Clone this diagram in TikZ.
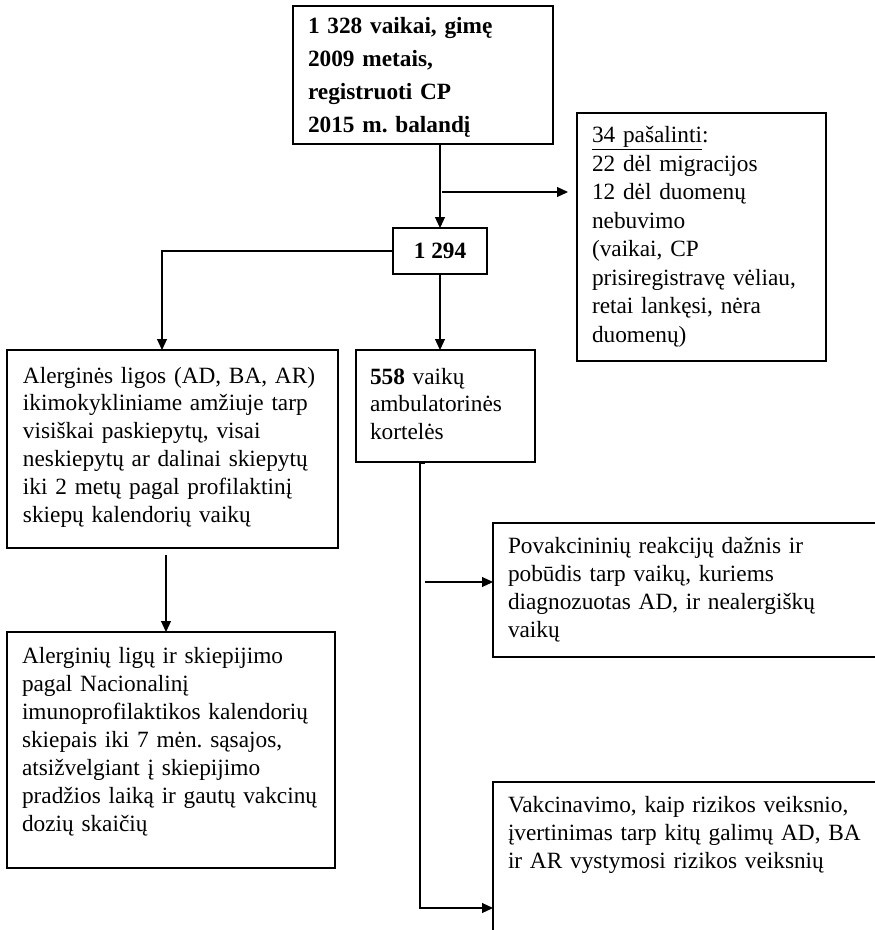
\documentclass[tikz,border=0pt]{standalone}
\usepackage{fontspec}
\setmainfont{Liberation Serif}
\usetikzlibrary{arrows.meta,calc}
\frenchspacing
\begin{document}
\begin{tikzpicture}[x=1pt,y=-1pt,
  boxst/.style={draw, line width=1.1pt, rectangle, anchor=north west, inner sep=0pt, outer sep=0pt},
  txt/.style={anchor=base west, inner sep=0pt, outer sep=0pt, text width=400pt, align=left},
  fnt/.style={font=\fontsize{23.3}{#1}\selectfont\frenchspacing},
  arr/.style={line width=1.1pt, -{Triangle[length=11pt,width=10pt]}},
  ln/.style={line width=1.1pt}]
\useasboundingbox (0,0) rectangle (875,930);
\fill[white] (0,0) rectangle (875,930);
% boxes
\node[boxst, minimum width=260pt, minimum height=138pt] (start) at (293,6) {};
\node[boxst, minimum width=249pt, minimum height=248pt] (pas) at (577,113) {};
\node[boxst, minimum width=94pt, minimum height=46pt, fnt=28] (n1294) at (393,228) {\textbf{1 294}};
\node[boxst, minimum width=331pt, minimum height=198pt] (alerg) at (7,350) {};
\node[boxst, minimum width=179pt, minimum height=112pt] (k558) at (356,350) {};
\node[boxst, minimum width=328pt, minimum height=236pt] (alg2) at (7,632) {};
\node[boxst, minimum width=400pt, minimum height=134pt] (povak) at (493,523) {};
\node[boxst, minimum width=400pt, minimum height=200pt] (vakc) at (493,782) {};
% texts
\node[txt, fnt=33] (tstart) at (308,33) {\bfseries 1 328 vaikai, gimę\\2009 metais,\\registruoti CP\\2015 m. balandį};
\node[txt, fnt=28.5] (tpas) at (592,142.5) {\underline{34 pašalinti}:\\22 dėl migracijos\\12 dėl duomenų\\nebuvimo\\(vaikai, CP\\prisiregistravę vėliau,\\retai lankęsi, nėra\\duomenų)};
\node[txt, fnt=27.8] (talerg) at (23,383) {Alerginės ligos (AD, BA, AR)\\ikimokykliniame amžiuje tarp\\visiškai paskiepytų, visai\\neskiepytų ar dalinai skiepytų\\iki 2 metų pagal profilaktinį\\skiepų kalendorių vaikų};
\node[txt, fnt=27.8] (tk558) at (370,384) {\textbf{558} vaikų\\ambulatorinės\\kortelės};
\node[txt, fnt=28] (talg2) at (22,663) {Alerginių ligų ir skiepijimo\\pagal Nacionalinį\\imunoprofilaktikos kalendorių\\skiepais iki 7 mėn. sąsajos,\\atsižvelgiant į skiepijimo\\pradžios laiką ir gautų vakcinų\\dozių skaičių};
\node[txt, fnt=28] (tpovak) at (508,553) {Povakcininių reakcijų dažnis ir\\pobūdis tarp vaikų, kuriems\\diagnozuotas AD, ir nealergiškų\\vaikų};
\node[txt, fnt=28] (tvakc) at (508,812) {Vakcinavimo, kaip rizikos veiksnio,\\įvertinimas tarp kitų galimų AD, BA\\ir AR vystymosi rizikos veiksnių};
% connectors
\draw[arr] (start.south -| n1294.north) -- (n1294.north);
\coordinate (br) at (442,192);
\draw[arr, shorten >=9pt] (br) -- (br -| pas.west);
\coordinate (a1) at ($(alerg.north)+(-10.5,0)$);
\draw[arr] (n1294.west) -| (a1);
\draw[arr] (n1294.south) -- (n1294.south |- k558.north);
\coordinate (a2) at ($(alerg.south)+(-6.5,7)$);
\draw[arr] (a2) -- (a2 |- alg2.north);
\coordinate (vtop) at ($(k558.south west)+(69,1)$);
\coordinate (vx) at ($(k558.south west)+(64,1)$);
\coordinate (vbot) at ($(vx)+(0,445)$);
\draw[arr] (vtop) -- (vx) -- (vbot) -- (vbot -| vakc.west);
\coordinate (pa) at ($(vx)+(5,119)$);
\draw[arr] (pa) -- (pa -| povak.west);
\end{tikzpicture}
\end{document}
